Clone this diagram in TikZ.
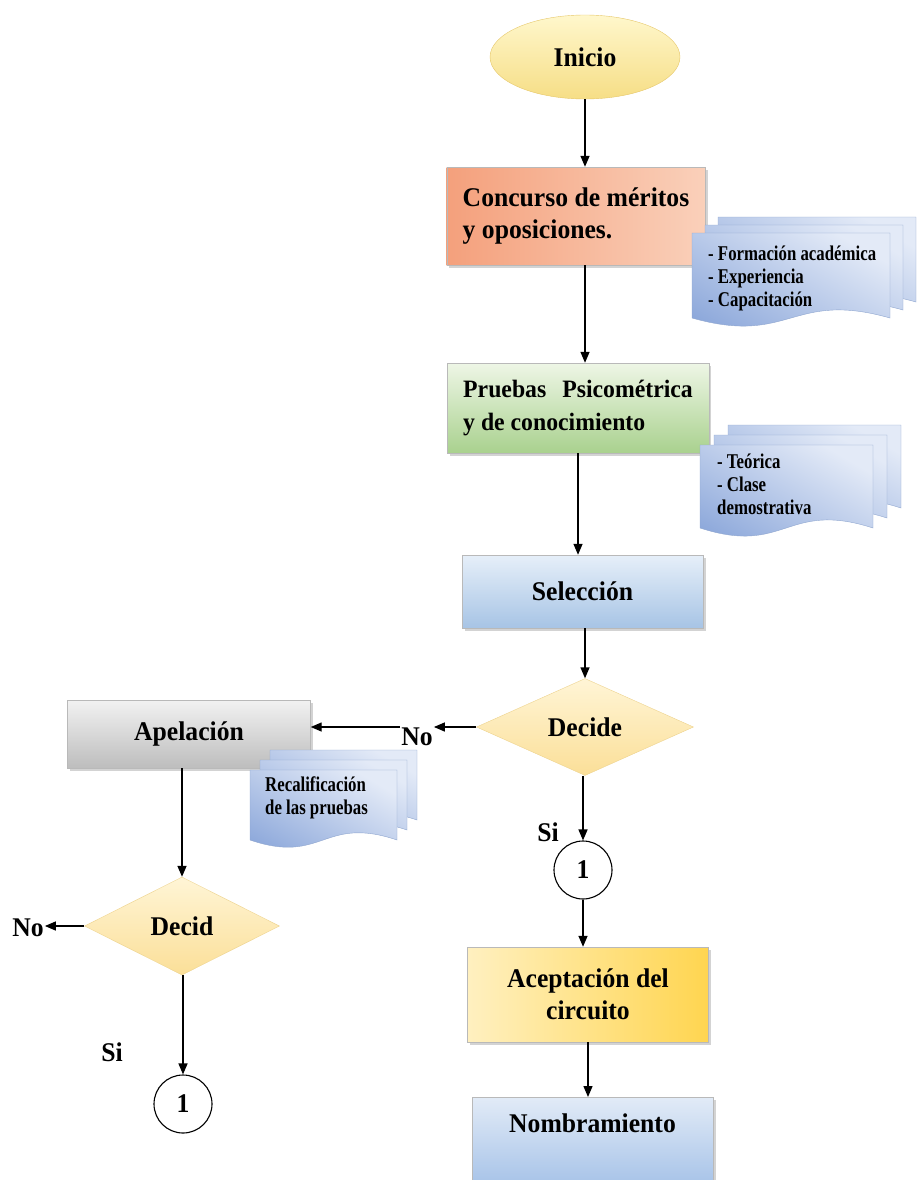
\documentclass[tikz,border=0pt]{standalone}
\usepackage{fontspec}
\setmainfont{Liberation Serif}[FakeStretch=0.95]
\newfontfamily\docfont{Liberation Serif}[FakeStretch=0.8]
\usetikzlibrary{shapes.geometric, arrows.meta, shadows}

\definecolor{iniA}{HTML}{F6DE86}
\definecolor{iniB}{HTML}{FFF7CC}
\definecolor{iniEdge}{HTML}{E6C76A}
\definecolor{conA}{HTML}{F4A07C}
\definecolor{conB}{HTML}{FAD0BA}
\definecolor{pruA}{HTML}{A9D18E}
\definecolor{pruB}{HTML}{EEF6E6}
\definecolor{selA}{HTML}{A7C4E5}
\definecolor{selB}{HTML}{E6EFF9}
\definecolor{apeA}{HTML}{BDBDBD}
\definecolor{apeB}{HTML}{F2F2F2}
\definecolor{aceA}{HTML}{FFD550}
\definecolor{aceB}{HTML}{FFF0C0}
\definecolor{nomA}{HTML}{9EBDE6}
\definecolor{nomB}{HTML}{E2EBF7}
\definecolor{docA}{HTML}{8EA9DB}
\definecolor{docB}{HTML}{E3EAF7}
\definecolor{docEdge}{HTML}{8FA6CF}
\definecolor{decA}{HTML}{FBDF98}
\definecolor{decB}{HTML}{FFF5D6}
\definecolor{decEdge}{HTML}{EDD38E}

\begin{document}
\begin{tikzpicture}[
        x=1pt, y=-1pt,
        every node/.style={font=\bfseries\fontsize{27}{32}\selectfont},
        stepbox/.style={rectangle, draw=gray!55, thin, inner xsep=16pt, inner ysep=0pt,
            drop shadow={shadow xshift=2.5pt, shadow yshift=-2.5pt, opacity=0.35}},
        decision/.style={diamond, draw=decEdge, thin, inner sep=0pt,
            top color=decB, bottom color=decA},
        connector/.style={circle, draw=black, line width=1.1pt, fill=white,
            minimum size=58pt, inner sep=0pt},
        answer/.style={inner sep=1pt},
        arrow/.style={line width=1.4pt, -{Triangle[length=11pt, width=9pt]}},
        doclayer/.style={draw=docEdge, thin, top color=docB, bottom color=docA, shading angle=-30},
        doctext/.style={font=\docfont\bfseries\fontsize{21}{23}\selectfont,
            align=left, anchor=north west, inner sep=0pt},
    ]
        \useasboundingbox (0,0) rectangle (918,1180);

        % Main column
        \node[ellipse, draw=iniEdge, thin, top color=iniB, bottom color=iniA,
            minimum width=190pt, minimum height=84pt] (inicio) at (585,57) {Inicio};
        \node[stepbox, left color=conA, right color=conB, minimum width=258pt, minimum height=98pt,
            align=left] (concurso) at (576,216)
            {Concurso de méritos\\y oposiciones.};
        \node[stepbox, top color=pruB, bottom color=pruA, minimum width=261pt, minimum height=90pt,
            align=left, font=\bfseries\fontsize{25}{33}\selectfont] (pruebas) at (578,408)
            {Pruebas\hspace{10pt} Psicométrica\\y de conocimiento};
        \node[stepbox, top color=selB, bottom color=selA, minimum width=241pt, minimum height=73pt]
            (seleccion) at (582.5,591.5) {Selección};
        \node[decision, minimum width=217pt, minimum height=97pt] (decide) at (585,727) {Decide};
        \node[answer] (siA) at (548,832) {Si};
        \node[connector] (circA) at (583,870) {1};
        \node[stepbox, left color=aceB, right color=aceA, minimum width=241pt, minimum height=95pt,
            align=center] (acept) at (588,994.5) {Aceptación del\\circuito};
        \node[stepbox, top color=nomB, bottom color=nomA, minimum width=241pt, anchor=north,
            inner ysep=16pt, text height=19pt, text depth=50pt] (nombr) at (592.5,1097) {Nombramiento};

        % Appeal branch
        \node[answer] (noA) at (417,737) {No};
        \node[stepbox, top color=apeB, bottom color=apeA, minimum width=243pt, minimum height=68pt]
            (apel) at (189,734) {Apelación};
        \node[decision, minimum width=195pt, minimum height=98pt] (decid) at (182,926) {Decid};
        \node[answer] (noB) at (28,928) {No};
        \node[answer] (siB) at (112,1052) {Si};
        \node[connector] (circB) at (183,1104) {1};

        % Arrows
        \draw[arrow] (inicio.south) -- (inicio.south |- concurso.north);
        \draw[arrow] (inicio.south |- concurso.south) -- (inicio.south |- pruebas.north);
        \draw[arrow] (pruebas.south) -- (pruebas.south |- seleccion.north);
        \draw[arrow] (seleccion.south -| decide.north) -- (decide.north);
        \draw[arrow] (circA.north |- decide.south) -- (circA.north);
        \draw[arrow] (circA.south) -- (circA.south |- acept.north);
        \draw[arrow] (acept.south) -- (acept.south |- nombr.north);
        \draw[arrow] (decide.west) -- (decide.west -| noA.east);
        \draw[arrow] (noA.west |- decide.west) -- (apel.east |- decide.west);
        \draw[arrow] (decid.north |- apel.south) -- (decid.north);
        \draw[arrow] (decid.west) -- (decid.west -| noB.east);
        \draw[arrow] (circB.north |- decid.south) -- (circB.north);

        % Document stacks
        \foreach \k in {2,1,0}
            \draw[doclayer, shift={(13*\k,-8*\k)}] (692,233) -- (890,233) -- (890,318)
                .. controls (791,290) and (791,346) .. (692,318) -- cycle;
        \node[doctext] (formacion) at (708,246) {- Formación académica\\- Experiencia\\- Capacitación};

        \foreach \k in {2,1,0}
            \draw[doclayer, shift={(14*\k,-10*\k)}] (700,445) -- (873,445) -- (873,528)
                .. controls (786,500) and (786,556) .. (700,528) -- cycle;
        \node[doctext] (teorica) at (717,454) {- Teórica\\- Clase\\demostrativa};

        \foreach \k in {2,1,0}
            \draw[doclayer, shift={(10*\k,-10*\k)}] (250,770) -- (397,770) -- (397,840)
                .. controls (323,815) and (323,865) .. (250,840) -- cycle;
        \node[doctext] (recalif) at (265,777) {Recalificación\\de las pruebas};
    \end{tikzpicture}
\end{document}
